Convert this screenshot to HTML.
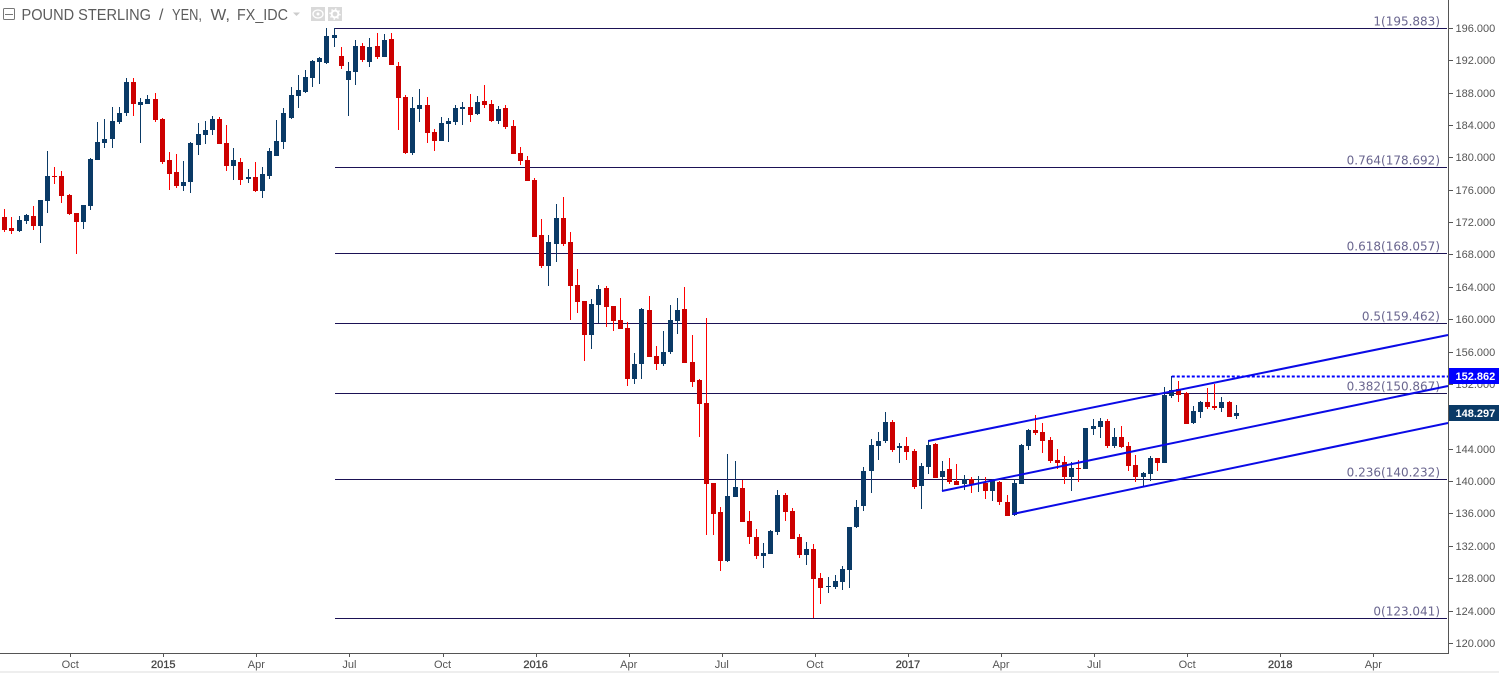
<!DOCTYPE html>
<html lang="en">
<head>
<meta charset="utf-8">
<title>Pound Sterling / Yen weekly chart</title>
<style>
html,body{margin:0;padding:0;background:#fff;}
svg{display:block;font-family:"Liberation Sans",Arial,sans-serif;}
</style>
</head>
<body>
<svg id="chart" xmlns="http://www.w3.org/2000/svg" width="1499" height="673" viewBox="0 0 1499 673">
  <rect x="0" y="0" width="1499" height="673" fill="#ffffff"/>
  <g id="fibs"></g>
  <g id="candles"></g>
  <g id="channel"></g>
  <rect x="1448" y="0" width="1" height="654" fill="#555555" shape-rendering="crispEdges"/>
  <rect x="0" y="653" width="1449" height="1" fill="#555555" shape-rendering="crispEdges"/>
  <g id="priceAxis"></g>
  <g id="timeAxis"></g>
  <g id="tags"></g>
  <rect x="0" y="671" width="1499" height="2" fill="#eeeeee"/>
  <g>
    <rect x="3.5" y="8.5" width="11" height="11" rx="1" fill="#ffffff" stroke="#777777"/>
    <rect x="5" y="14" width="8" height="1" fill="#777777"/>
    <g font-size="16" fill="#5c5c5c">
      <text x="21.5" y="20" textLength="129.5" lengthAdjust="spacingAndGlyphs">POUND STERLING</text>
      <text x="159" y="20">/</text>
      <text x="172" y="20" textLength="30" lengthAdjust="spacingAndGlyphs">YEN,</text>
      <text x="210.5" y="20" textLength="19.5" lengthAdjust="spacingAndGlyphs">W,</text>
      <text x="237" y="20" textLength="51" lengthAdjust="spacingAndGlyphs">FX_IDC</text>
    </g>
    <polygon points="293,12.5 300,12.5 296.5,16" fill="#cccccc"/>
    <rect x="311" y="7" width="14" height="14" fill="#d9d9d9"/>
    <ellipse cx="318" cy="14" rx="5" ry="4" fill="none" stroke="#ffffff" stroke-width="1.3"/>
    <circle cx="318" cy="14" r="1.5" fill="#ffffff"/>
    <rect x="328" y="7" width="14" height="14" fill="#d9d9d9"/>
    <circle cx="335" cy="14" r="3.4" fill="none" stroke="#ffffff" stroke-width="2"/>
    <circle cx="335" cy="14" r="5" fill="none" stroke="#ffffff" stroke-width="1.4" stroke-dasharray="1.5 2.4"/>
  </g>
</svg>
<script>
const opens = [172.62,171.26,170.89,172.13,172.74,171.51,174.60,177.69,177.69,175.34,
173.11,172.00,173.98,179.66,181.76,182.26,184.36,185.47,189.30,186.46,
186.58,187.20,184.73,179.66,178.18,176.45,176.94,181.52,182.75,183.37,
184.73,181.76,178.92,179.41,177.31,177.56,175.83,177.69,180.16,181.89,
184.85,187.57,188.06,189.79,191.77,191.65,194.74,192.51,189.55,190.53,
193.75,191.77,193.75,192.39,194.61,191.28,187.45,180.53,185.96,186.46,
183.12,182.01,184.11,184.36,185.96,186.21,185.35,186.95,186.58,184.48,
186.09,183.86,180.53,179.66,177.19,170.40,166.56,169.28,172.50,169.53,
164.22,162.24,158.04,161.75,163.85,161.62,159.89,158.91,152.61,154.46,
161.13,155.45,154.46,155.94,159.77,161.25,154.70,152.48,149.64,139.76,
136.17,130.12,138.03,139.14,135.06,133.08,130.74,130.99,133.70,138.27,
136.30,133.08,130.86,131.60,128.02,126.91,126.91,127.52,129.01,134.32,
136.91,141.24,144.33,144.94,147.29,144.08,144.33,143.71,139.38,141.73,
144.57,140.50,141.48,140.00,139.63,140.25,140.13,139.76,138.77,139.88,
137.41,135.80,139.63,144.33,146.30,146.06,145.07,142.60,142.35,140.50,
141.61,141.48,146.43,146.67,147.42,144.33,145.44,144.33,141.98,140.50,
140.87,142.84,142.23,150.50,151.37,150.88,147.17,148.53,149.76,149.27,
149.02,149.76,148.03];
const highs = [173.61,172.62,172.74,172.99,173.98,174.72,180.77,178.80,178.30,175.46,
173.11,174.10,179.91,184.36,184.73,186.21,186.21,189.79,189.79,187.32,
187.69,187.94,184.85,180.65,180.40,179.54,181.89,184.23,184.48,185.10,
184.98,183.99,181.14,179.91,178.55,179.41,178.80,181.14,184.60,186.09,
188.68,190.16,190.78,192.02,192.39,195.97,195.97,193.62,191.77,194.49,
194.12,194.74,195.35,195.23,195.35,191.77,187.69,187.45,188.43,187.45,
183.49,184.98,184.85,186.46,186.83,187.82,187.57,188.93,187.07,186.33,
186.46,184.60,181.27,180.16,177.44,172.37,170.40,174.23,175.09,170.77,
166.20,162.24,162.49,164.22,164.09,161.62,162.61,159.65,155.82,161.38,
162.86,156.68,158.54,161.75,162.61,163.97,158.04,152.61,160.14,139.76,
136.79,143.34,142.47,140.13,136.30,134.07,132.34,133.95,138.89,138.52,
136.67,133.46,132.46,132.22,128.64,128.14,128.39,129.50,134.32,137.66,
141.73,145.19,146.06,148.53,147.54,144.70,145.44,143.96,142.23,145.07,
144.70,142.47,142.84,142.10,140.75,140.50,140.62,140.50,140.25,140.00,
138.27,140.25,144.57,146.43,148.16,147.17,145.44,143.96,143.09,142.35,
142.60,146.55,147.66,147.79,147.66,146.55,146.80,144.82,143.21,141.11,
143.09,142.84,151.62,152.97,152.36,151.00,149.27,149.89,151.49,151.99,
150.38,149.89,149.39];
const lows = [170.77,170.52,170.77,171.76,171.01,169.41,173.11,176.70,174.35,172.87,
168.05,171.14,173.49,179.66,181.14,181.14,184.11,185.10,185.10,181.76,
186.58,184.36,179.17,175.96,176.20,175.83,175.59,180.28,181.64,182.75,
181.64,178.30,177.19,176.57,176.82,175.71,174.97,177.31,180.16,181.02,
184.73,186.09,187.94,188.68,189.05,191.52,193.62,190.91,185.10,188.93,
191.77,191.15,192.14,192.39,191.40,183.37,180.40,180.28,184.36,181.76,
180.77,182.01,181.89,183.99,183.99,184.36,185.22,186.09,184.36,184.11,
183.49,180.40,179.04,177.07,170.15,166.32,164.09,167.06,169.04,159.89,
160.76,154.83,156.31,159.52,159.03,158.54,158.78,151.74,151.99,152.61,
155.32,153.72,154.21,155.69,158.16,154.58,151.62,145.44,133.33,133.33,
128.88,129.99,138.03,134.94,132.22,130.37,129.25,130.99,133.33,135.06,
132.84,130.49,129.63,123.08,124.81,126.17,126.66,126.54,126.78,134.20,
136.30,138.52,142.60,144.70,143.58,142.23,142.60,139.01,136.54,140.87,
140.37,138.77,139.63,139.51,138.89,138.52,138.64,137.78,137.53,137.04,
135.68,135.68,139.63,143.83,145.69,143.46,142.23,141.48,139.63,138.77,
139.88,141.48,145.69,145.31,144.08,144.08,144.08,141.24,139.88,139.26,
140.00,141.24,142.23,150.26,149.76,147.05,147.05,147.79,148.90,148.77,
148.53,147.91,147.66];
const closes = [171.01,170.89,172.25,172.87,171.51,174.72,177.69,177.56,175.21,172.99,
172.00,174.10,179.79,181.89,182.26,184.48,185.47,189.30,186.58,186.83,
187.20,184.60,179.41,177.93,176.45,176.94,181.76,182.87,183.37,184.73,
181.64,178.92,179.66,177.19,177.56,175.83,177.93,180.77,182.01,185.47,
187.69,188.31,189.92,191.89,192.26,194.98,195.11,191.28,190.66,193.75,
192.02,193.62,192.39,194.49,191.40,187.32,180.53,186.09,186.46,183.00,
182.01,184.23,184.48,186.09,186.21,185.22,186.83,186.46,184.48,185.96,
183.74,180.40,179.54,177.07,170.15,166.56,169.53,172.50,169.28,164.09,
162.12,158.04,161.87,163.72,161.50,159.77,158.78,152.61,154.46,161.25,
155.32,154.46,155.94,159.89,161.13,154.58,152.23,149.52,139.63,135.93,
130.12,138.15,139.26,134.94,133.08,130.74,131.11,133.83,138.27,136.17,
132.84,130.86,131.60,127.89,126.78,127.03,127.65,129.13,134.32,136.79,
141.24,144.45,144.94,147.29,143.83,144.33,143.58,139.26,141.86,144.45,
140.37,141.24,139.88,139.51,140.25,139.51,140.25,138.77,140.00,137.41,
135.68,139.76,144.45,146.30,145.93,144.94,142.47,142.23,140.50,141.61,
141.48,146.55,146.80,147.42,144.33,145.44,144.20,141.86,140.50,140.99,
142.84,142.23,150.63,151.25,150.63,147.05,148.65,149.76,149.14,149.02,
149.76,147.91,148.40];

const fibLevels = [195.883,178.692,168.057,159.462,150.867,140.232,123.041];
const fibLabels = ["1(195.883)","0.764(178.692)","0.618(168.057)","0.5(159.462)","0.382(150.867)","0.236(140.232)","0(123.041)"];
const fibStartIndex = 46.2;

const priceTicks = [196,192,188,184,180,176,172,168,164,160,156,152,148,144,140,136,132,128,124,120];
const timeTickLabels = ["Oct","2015","Apr","Jul","Oct","2016","Apr","Jul","Oct","2017","Apr","Jul","Oct","2018","Apr"];
const timeTickWeeks = [9.15,22.15,35.15,48.15,61.15,74.15,87.15,100.15,113.15,126.15,139.15,152.15,165.15,178.15,191.15];

const channelStartWeeks = [129,130.9,140.8];
const channelEndWeeks = [201.6,201.6,201.6];
const channelStartPrices = [144.94,138.77,135.93];
const channelEndPrices = [158.04,151.74,147.17];
const targetLevel = 152.862;
const targetStartWeek = 163;
const lastPrice = 148.297;

function xOf(week){ return 4.7 + 7.16 * week; }
function yOf(price){ return (199.43 - price) / 0.12355; }
const PLOT_RIGHT = 1448;
const SVGNS = "http://www.w3.org/2000/svg";

function mk(tag, parent, attrs){
  const el = document.createElementNS(SVGNS, tag);
  for (const k in attrs) el.setAttribute(k, attrs[k]);
  parent.appendChild(el);
  return el;
}

const fibG = document.getElementById("fibs");
fibLevels.forEach(function(level, i){
  const y = Math.floor(yOf(level));
  const x0 = xOf(fibStartIndex);
  const line = mk("rect", fibG, {x: Math.round(x0), y: y, width: PLOT_RIGHT - 1 - Math.round(x0), height: 1, fill: "#1b1255", "shape-rendering": "crispEdges"});
  
  
  const label = mk("text", fibG, {x: 1440, y: y - 2.5, "text-anchor": "end", "font-size": 12, fill: "#6a668f", "font-family": '"DejaVu Sans",sans-serif'});
  label.textContent = fibLabels[i];
  
  
});

const candleG = document.getElementById("candles");
opens.forEach(function(open, i){
  const up = closes[i] >= open;
  const px = Math.floor(xOf(i));
  const wickTop = Math.round(yOf(highs[i]));
  const wickBottom = Math.round(yOf(lows[i]));
  const bodyTop = Math.round(yOf(Math.max(open, closes[i])));
  const bodyBottom = Math.round(yOf(Math.min(open, closes[i])));
  const wick = mk("rect", candleG, {x: px, y: wickTop, width: 1, height: Math.max(1, wickBottom - wickTop), fill: up ? "#0a3a66" : "#ff0000", "shape-rendering": "crispEdges"});
  
  
  const body = mk("rect", candleG, {x: px - 2, y: bodyTop, width: 5, height: Math.max(1, bodyBottom - bodyTop), fill: up ? "#0a3a66" : "#cc0000", "shape-rendering": "crispEdges"});
  
  
});

const channelG = document.getElementById("channel");
channelStartWeeks.forEach(function(week, i){
  const line = mk("line", channelG, {x1: xOf(week), y1: yOf(channelStartPrices[i]), x2: Math.min(xOf(channelEndWeeks[i]), PLOT_RIGHT), y2: yOf(channelEndPrices[i]), stroke: "#0a0ae6", "stroke-width": 2});
  
  
});
const targetY = Math.floor(yOf(targetLevel)) + 0.5;
const targetLine = mk("line", channelG, {x1: xOf(targetStartWeek), y1: targetY, x2: PLOT_RIGHT, y2: targetY, stroke: "#0000ff", "stroke-width": 2, "stroke-dasharray": "3 2"});



const priceG = document.getElementById("priceAxis");
priceTicks.forEach(function(p){
  const y = Math.round(yOf(p));
  const tick = mk("rect", priceG, {x: 1449, y: y, width: 4, height: 1, fill: "#555555", "shape-rendering": "crispEdges"});
  
  
  const label = mk("text", priceG, {x: 1455.5, y: y + 4, "font-size": 11, fill: "#555555"});
  label.textContent = p.toFixed(3);
  
  
});

const timeG = document.getElementById("timeAxis");
timeTickLabels.forEach(function(name, i){
  const x = xOf(timeTickWeeks[i]);
  const tick = mk("rect", timeG, {x: Math.round(x), y: 654, width: 1, height: 3, fill: "#555555", "shape-rendering": "crispEdges"});
  
  
  const isYear = /^\d/.test(name);
  const label = mk("text", timeG, {x: x, y: 668, "text-anchor": "middle", "font-size": 11, fill: isYear ? "#444444" : "#555555", stroke: isYear ? "#444444" : "none", "stroke-width": isYear ? 0.3 : 0});
  label.textContent = name;
  
  
});

const tagG = document.getElementById("tags");
const tagPrices = [targetLevel, lastPrice];
const tagColors = ["#0000ff", "#0a3a66"];
tagPrices.forEach(function(p, i){
  const y = Math.floor(yOf(p));
  const bg = mk("rect", tagG, {x: 1449, y: y - 8, width: 50, height: 16, fill: tagColors[i]});
  
  
  const label = mk("text", tagG, {x: 1455.5, y: y + 4, "font-size": 11, "font-weight": "bold", fill: "#ffffff"});
  label.textContent = p.toFixed(3);
  
  
});
</script>
</body>
</html>
